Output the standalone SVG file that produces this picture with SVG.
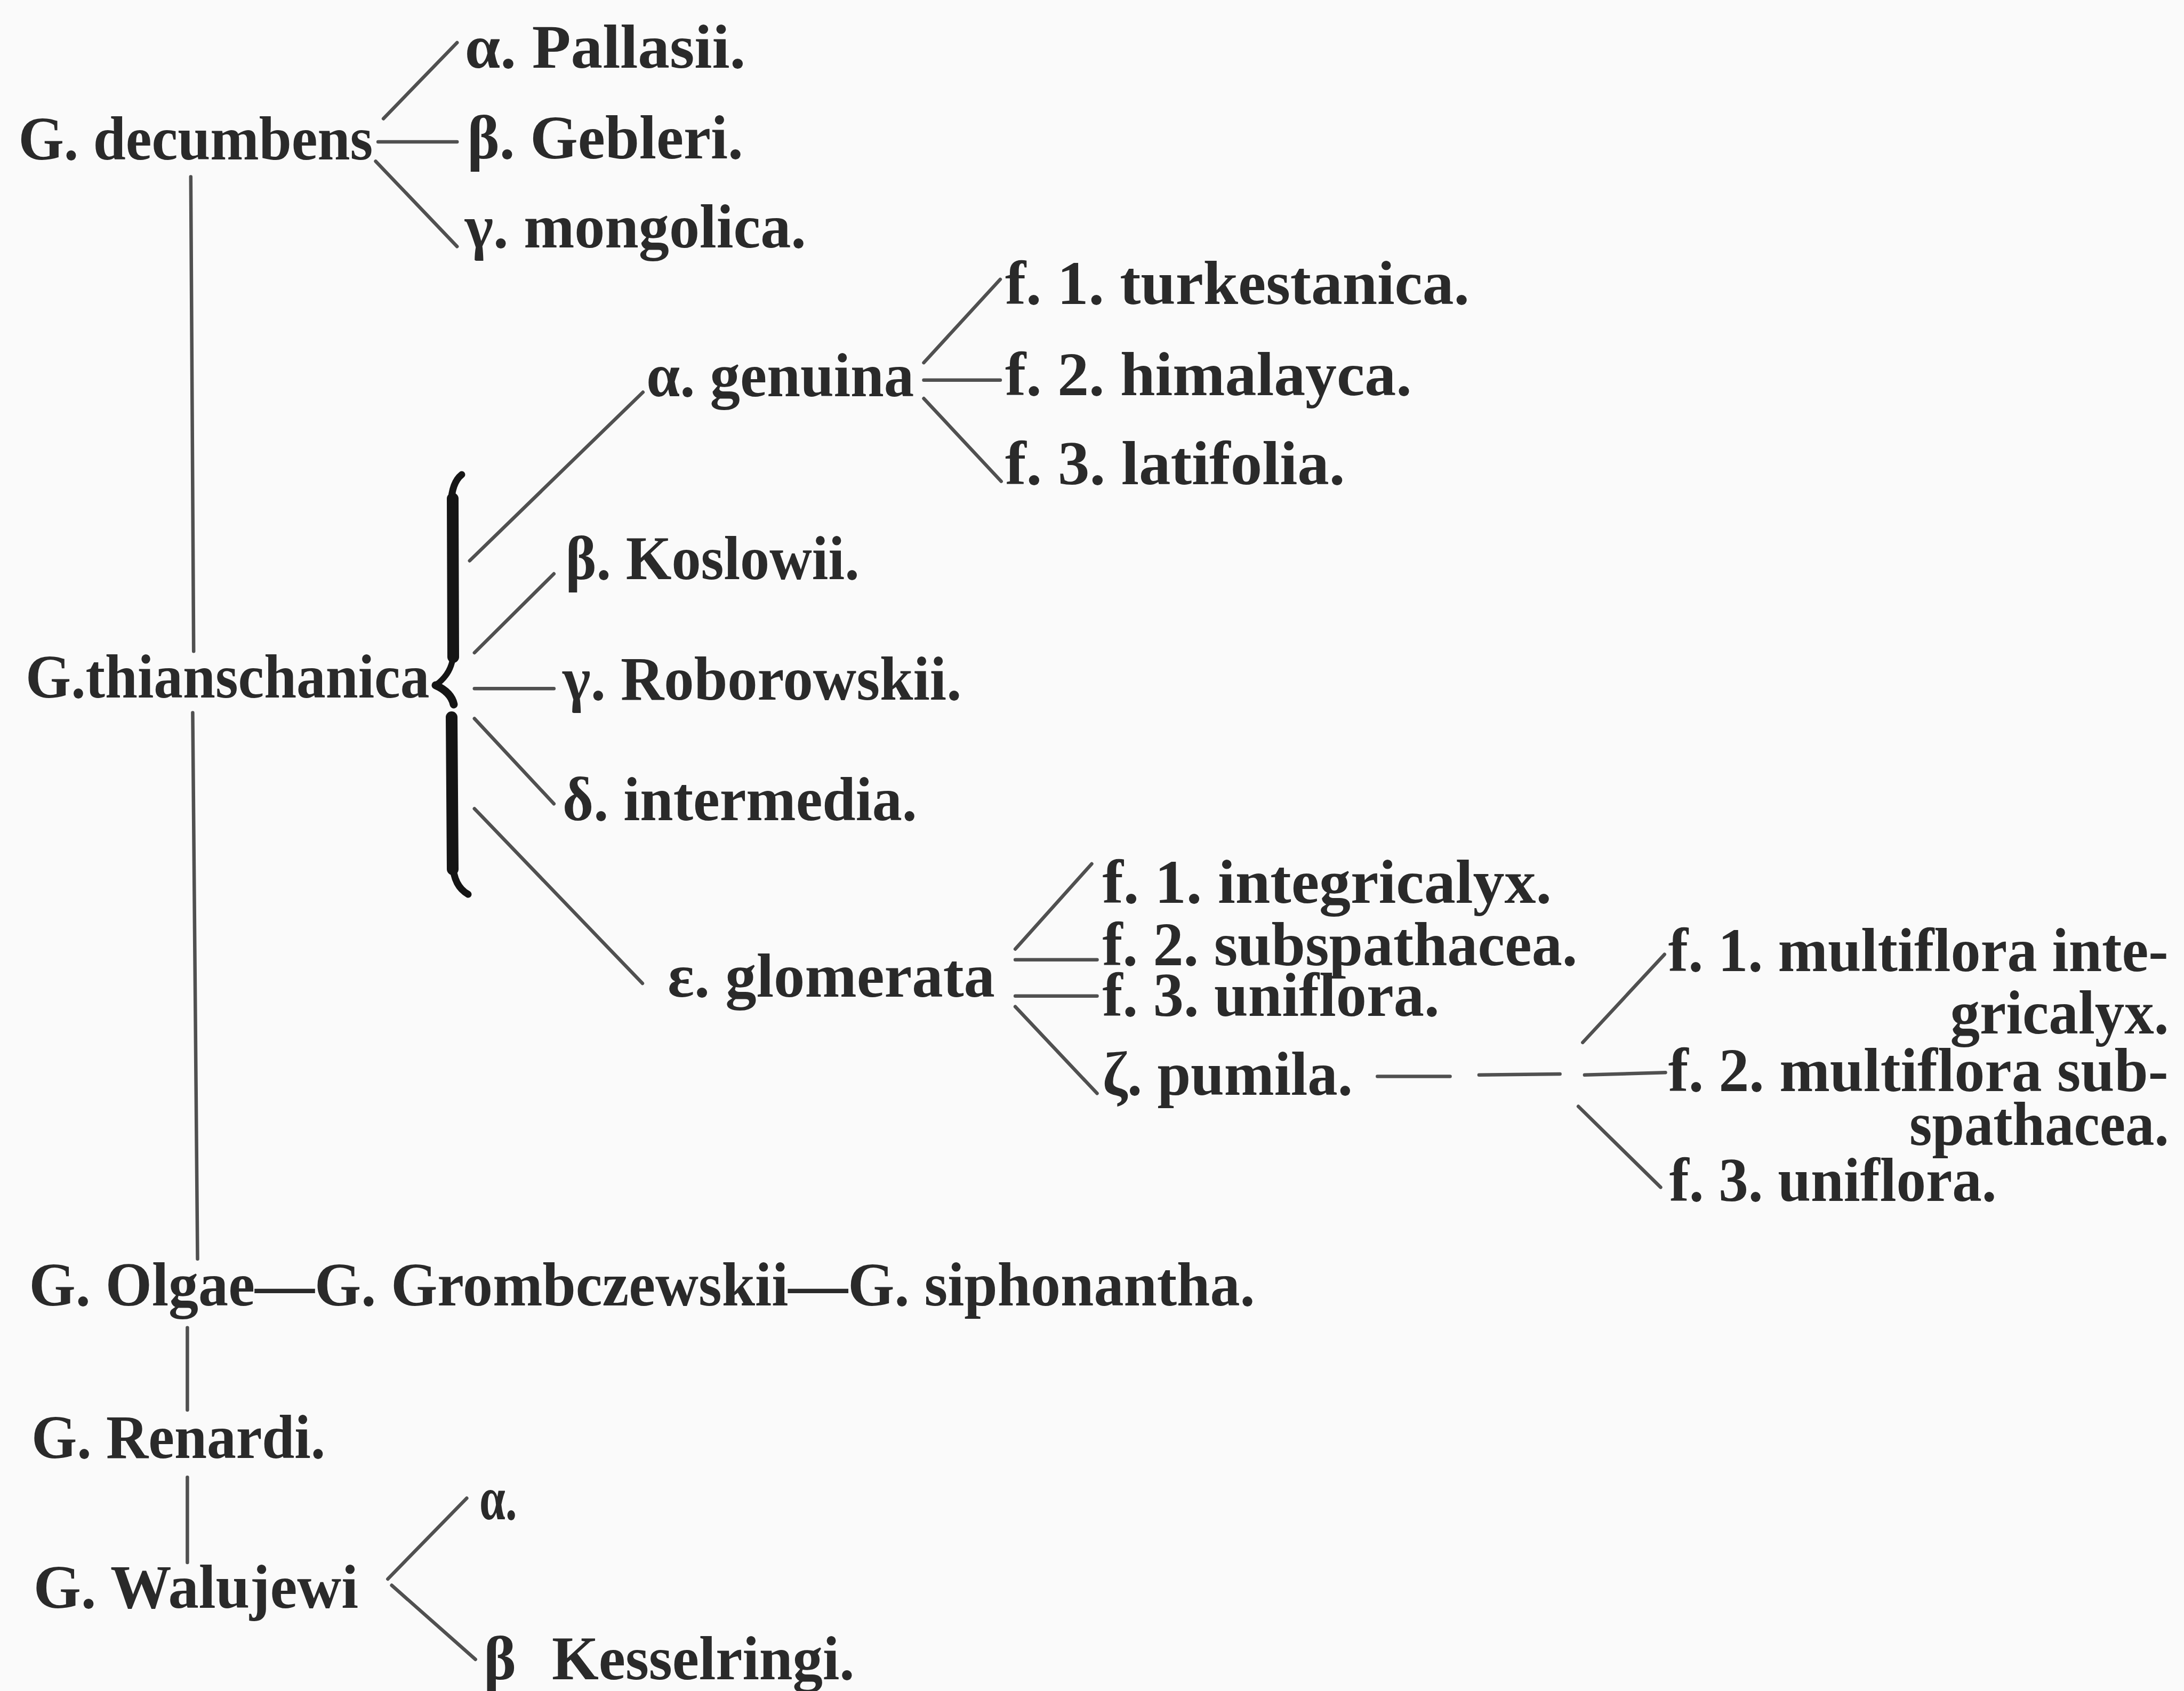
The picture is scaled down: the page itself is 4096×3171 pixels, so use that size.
<svg xmlns="http://www.w3.org/2000/svg" width="4096" height="3171" viewBox="0 0 4096 3171">
<style>
.t{font-family:"Liberation Serif","Times New Roman",serif;font-size:116px;font-weight:bold;fill:#2a2a2a}
.c{stroke:#505050;stroke-width:6.5;stroke-linecap:round;fill:none}
.br{stroke:#151515;fill:none;stroke-linecap:round}
</style>
<rect x="0" y="0" width="4096" height="3171" fill="#fafafa"/>
<g id="connectors">
<line class="c" x1="719.1" y1="222.5" x2="857.2" y2="79.9"/>
<line class="c" x1="709.1" y1="266" x2="857.2" y2="266"/>
<line class="c" x1="704.6" y1="302.4" x2="857.2" y2="462.2"/>
<line class="c" x1="357.8" y1="331.4" x2="363.2" y2="1221.3"/>
<line class="c" x1="361.4" y1="1336.6" x2="370.5" y2="2360.8"/>
<line class="c" x1="351.4" y1="2489.7" x2="351.4" y2="2644.1"/>
<line class="c" x1="351.4" y1="2770.3" x2="351.4" y2="2930.1"/>
<line class="c" x1="727.3" y1="2961" x2="875.3" y2="2809.4"/>
<line class="c" x1="734.6" y1="2972.8" x2="891.7" y2="3111.7"/>
<path class="br" stroke-width="22" d="M849 935 L850 1232"/>
<path class="br" stroke-width="13" d="M846 945 Q847 905 866 890"/>
<path class="br" stroke-width="11" d="M850 1225 Q849 1262 817 1285"/>
<path class="br" stroke-width="15" d="M817 1285 Q846 1298 851 1321"/>
<path class="br" stroke-width="22" d="M847 1345 L849 1630"/>
<path class="br" stroke-width="13" d="M849 1620 Q851 1662 878 1677"/>
<line class="c" x1="880.8" y1="1051.5" x2="1205.8" y2="735.5"/>
<line class="c" x1="889.8" y1="1224" x2="1038.8" y2="1076"/>
<line class="c" x1="889.8" y1="1291.2" x2="1038.8" y2="1291.2"/>
<line class="c" x1="889.8" y1="1347.5" x2="1038.8" y2="1507.3"/>
<line class="c" x1="889.8" y1="1516.4" x2="1204.9" y2="1844.1"/>
<line class="c" x1="1732.5" y1="680.1" x2="1875.9" y2="523.9"/>
<line class="c" x1="1732.5" y1="712.8" x2="1875.9" y2="712.8"/>
<line class="c" x1="1732.5" y1="747.3" x2="1877.7" y2="902.6"/>
<line class="c" x1="1904.1" y1="1779.7" x2="2047.5" y2="1619.9"/>
<line class="c" x1="1904.1" y1="1799.7" x2="2057.5" y2="1799.7"/>
<line class="c" x1="1904.1" y1="1867.8" x2="2057.5" y2="1867.8"/>
<line class="c" x1="1904.1" y1="1887.7" x2="2057.5" y2="2050.3"/>
<line class="c" x1="2583.3" y1="2018.5" x2="2719.5" y2="2018.5"/>
<line class="c" x1="2773.9" y1="2015.8" x2="2925.6" y2="2013.9"/>
<line class="c" x1="2971.9" y1="2015.8" x2="3123.5" y2="2011.2"/>
<line class="c" x1="2968.3" y1="1954.9" x2="3121.7" y2="1789.7"/>
<line class="c" x1="2960.1" y1="2074.8" x2="3114.4" y2="2226.4"/>
</g>
<g id="n-decumbens"><text class="t" x="34.5" y="298.7" textLength="664.7" lengthAdjust="spacingAndGlyphs">G. decumbens</text></g>
<g id="n-pallasii"><text class="t" x="871.7" y="127.1" textLength="526.6" lengthAdjust="spacingAndGlyphs">α. Pallasii.</text></g>
<g id="n-gebleri"><text class="t" x="876.2" y="296.9" textLength="517.6" lengthAdjust="spacingAndGlyphs">β. Gebleri.</text></g>
<g id="n-mongolica"><text class="t" x="871.7" y="464" textLength="640.1" lengthAdjust="spacingAndGlyphs">γ. mongolica.</text></g>
<g id="n-turkestanica"><text class="t" x="1885" y="570.2" textLength="870.8" lengthAdjust="spacingAndGlyphs">f. 1. turkestanica.</text></g>
<g id="n-genuina"><text class="t" x="1212.2" y="742.7" textLength="502.1" lengthAdjust="spacingAndGlyphs">α. genuina</text></g>
<g id="n-himalayca"><text class="t" x="1885" y="740.9" textLength="762.7" lengthAdjust="spacingAndGlyphs">f. 2. himalayca.</text></g>
<g id="n-latifolia"><text class="t" x="1885" y="908" textLength="637.4" lengthAdjust="spacingAndGlyphs">f. 3. latifolia.</text></g>
<g id="n-koslowii"><text class="t" x="1060.5" y="1086" textLength="551.2" lengthAdjust="spacingAndGlyphs">β. Koslowii.</text></g>
<g id="n-thianschanica"><text class="t" x="48.1" y="1307.5" textLength="757.3" lengthAdjust="spacingAndGlyphs">G.thianschanica</text></g>
<g id="n-roborowskii"><text class="t" x="1055.1" y="1312.1" textLength="748.2" lengthAdjust="spacingAndGlyphs">γ. Roborowskii.</text></g>
<g id="n-intermedia"><text class="t" x="1055.1" y="1538.2" textLength="664.7" lengthAdjust="spacingAndGlyphs">δ. intermedia.</text></g>
<g id="n-glomerata"><text class="t" x="1252.1" y="1868.7" textLength="613.8" lengthAdjust="spacingAndGlyphs">ε. glomerata</text></g>
<g id="n-integricalyx"><text class="t" x="2067.5" y="1693.4" textLength="842.6" lengthAdjust="spacingAndGlyphs">f. 1. integricalyx.</text></g>
<g id="n-subspathacea"><text class="t" x="2067.5" y="1809.6" textLength="890.8" lengthAdjust="spacingAndGlyphs">f. 2. subspathacea.</text></g>
<g id="n-uniflora1"><text class="t" x="2067.5" y="1905" textLength="632" lengthAdjust="spacingAndGlyphs">f. 3. uniflora.</text></g>
<g id="n-pumila"><text class="t" x="2067.5" y="2053" textLength="469.4" lengthAdjust="spacingAndGlyphs">ζ. pumila.</text></g>
<g id="n-multiflora1"><text class="t" x="3128.8" y="1821.4" textLength="937.8" lengthAdjust="spacingAndGlyphs">f. 1. multiflora inte-</text><text class="t" x="3657.4" y="1937.7" textLength="410.2" lengthAdjust="spacingAndGlyphs">gricalyx.</text></g>
<g id="n-multiflora2"><text class="t" x="3128.8" y="2045.7" textLength="937.8" lengthAdjust="spacingAndGlyphs">f. 2. multiflora sub-</text><text class="t" x="3581.1" y="2146.5" textLength="486.5" lengthAdjust="spacingAndGlyphs">spathacea.</text></g>
<g id="n-uniflora2"><text class="t" x="3130.8" y="2251.8" textLength="613.8" lengthAdjust="spacingAndGlyphs">f. 3. uniflora.</text></g>
<g id="n-olgae"><text class="t" x="54.5" y="2448" textLength="2299" lengthAdjust="spacingAndGlyphs">G. Olgae—G. Grombczewskii—G. siphonantha.</text></g>
<g id="n-renardi"><text class="t" x="59" y="2734" textLength="551.2" lengthAdjust="spacingAndGlyphs">G. Renardi.</text></g>
<g id="n-walujewi"><text class="t" x="62.7" y="3014.6" textLength="609.3" lengthAdjust="spacingAndGlyphs">G. Walujewi</text></g>
<g id="n-walujewi-alpha"><text class="t" x="898.9" y="2849.3" textLength="70.8" lengthAdjust="spacingAndGlyphs">α.</text></g>
<g id="n-kesselringi"><text class="t" x="907.1" y="3148.9">β<tspan x="1035" textLength="567.6" lengthAdjust="spacingAndGlyphs">Kesselringi.</tspan></text></g>
</svg>
